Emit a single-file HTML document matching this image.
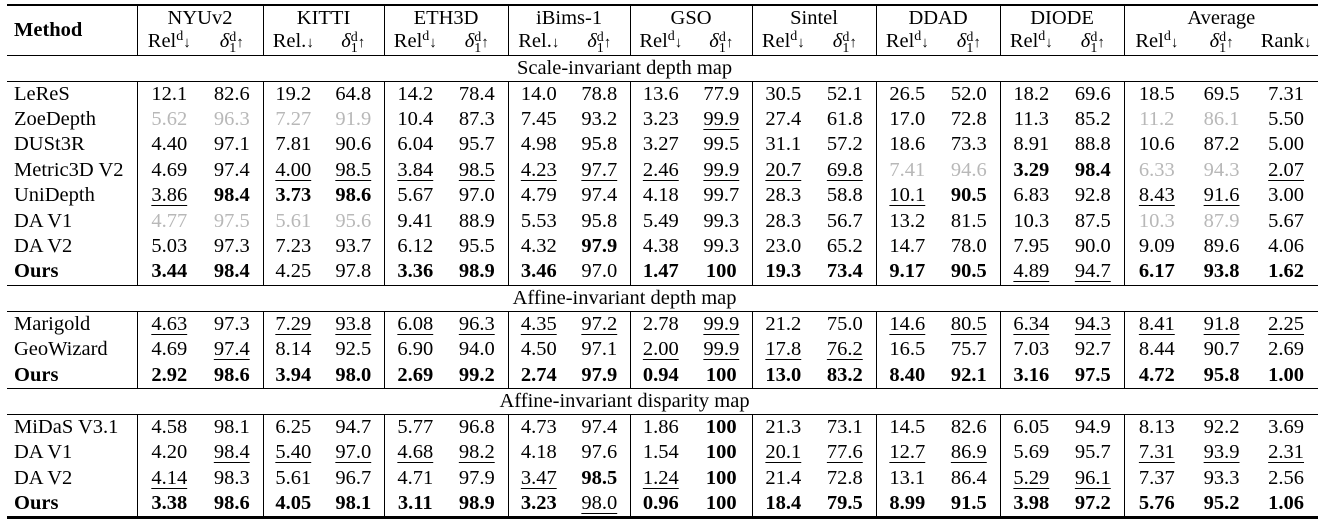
<!DOCTYPE html>
<html><head><meta charset="utf-8"><style>
body{margin:0;background:#fff;width:1323px;height:524px;overflow:hidden;font-family:"Liberation Serif",serif;color:#000}
table{position:absolute;left:7px;top:4px;border-collapse:collapse;table-layout:fixed;width:1311px;border-top:2px solid #000;border-bottom:3px solid #000;font-size:20.5px}
td{padding:0;text-align:center;white-space:nowrap;line-height:21px}
td.m{text-align:left;padding-left:7px}
.vr{border-right:1px solid #000}
tr.hl td{border-bottom:1px solid #000}
tr.r td{height:25.4px}
tr.s td{height:25px;padding-right:76px}
.b{font-weight:bold}
.u{text-decoration:underline;text-decoration-thickness:1px;text-underline-offset:4px}
.g{color:#b8b8b8}
.ar{font-size:15px}
.sp{display:inline-block;vertical-align:-5px;line-height:11px;font-size:14px;text-align:left}
sup{font-size:14px;line-height:0;vertical-align:7px}
</style></head><body>
<table>
<colgroup><col style="width:130px"><col style="width:64px"><col style="width:62px"><col style="width:60px"><col style="width:61px"><col style="width:62px"><col style="width:62px"><col style="width:61px"><col style="width:61px"><col style="width:61px"><col style="width:61px"><col style="width:62px"><col style="width:62px"><col style="width:62px"><col style="width:62px"><col style="width:62px"><col style="width:62px"><col style="width:65px"><col style="width:65px"><col style="width:64px"></colgroup>
<tr style="height:25px"><td rowspan="2" class="m b vr" style="border-bottom:1px solid #000">Method</td><td colspan="2" class="vr">NYUv2</td><td colspan="2" class="vr">KITTI</td><td colspan="2" class="vr">ETH3D</td><td colspan="2" class="vr">iBims-1</td><td colspan="2" class="vr">GSO</td><td colspan="2" class="vr">Sintel</td><td colspan="2" class="vr">DDAD</td><td colspan="2" class="vr">DIODE</td><td colspan="3">Average</td></tr>
<tr class="hl" style="height:25px"><td>Rel<sup>d</sup><span class="ar">↓</span></td><td class="vr"><i>δ</i><span class="sp">d<br>1</span><span class="ar">↑</span></td><td>Rel.<span class="ar">↓</span></td><td class="vr"><i>δ</i><span class="sp">d<br>1</span><span class="ar">↑</span></td><td>Rel<sup>d</sup><span class="ar">↓</span></td><td class="vr"><i>δ</i><span class="sp">d<br>1</span><span class="ar">↑</span></td><td>Rel.<span class="ar">↓</span></td><td class="vr"><i>δ</i><span class="sp">d<br>1</span><span class="ar">↑</span></td><td>Rel<sup>d</sup><span class="ar">↓</span></td><td class="vr"><i>δ</i><span class="sp">d<br>1</span><span class="ar">↑</span></td><td>Rel<sup>d</sup><span class="ar">↓</span></td><td class="vr"><i>δ</i><span class="sp">d<br>1</span><span class="ar">↑</span></td><td>Rel<sup>d</sup><span class="ar">↓</span></td><td class="vr"><i>δ</i><span class="sp">d<br>1</span><span class="ar">↑</span></td><td>Rel<sup>d</sup><span class="ar">↓</span></td><td class="vr"><i>δ</i><span class="sp">d<br>1</span><span class="ar">↑</span></td><td>Rel<sup>d</sup><span class="ar">↓</span></td><td><i>δ</i><span class="sp">d<br>1</span><span class="ar">↑</span></td><td>Rank<span class="ar">↓</span></td></tr>
<tr class="s hl"><td colspan="20">Scale-invariant depth map</td></tr>
<tr class="r"><td class="m vr">LeReS</td><td>12.1</td><td class="vr">82.6</td><td>19.2</td><td class="vr">64.8</td><td>14.2</td><td class="vr">78.4</td><td>14.0</td><td class="vr">78.8</td><td>13.6</td><td class="vr">77.9</td><td>30.5</td><td class="vr">52.1</td><td>26.5</td><td class="vr">52.0</td><td>18.2</td><td class="vr">69.6</td><td>18.5</td><td>69.5</td><td>7.31</td></tr>
<tr class="r"><td class="m vr">ZoeDepth</td><td class="g">5.62</td><td class="vr g">96.3</td><td class="g">7.27</td><td class="vr g">91.9</td><td>10.4</td><td class="vr">87.3</td><td>7.45</td><td class="vr">93.2</td><td>3.23</td><td class="vr"><span class="u">99.9</span></td><td>27.4</td><td class="vr">61.8</td><td>17.0</td><td class="vr">72.8</td><td>11.3</td><td class="vr">85.2</td><td class="g">11.2</td><td class="g">86.1</td><td>5.50</td></tr>
<tr class="r"><td class="m vr">DUSt3R</td><td>4.40</td><td class="vr">97.1</td><td>7.81</td><td class="vr">90.6</td><td>6.04</td><td class="vr">95.7</td><td>4.98</td><td class="vr">95.8</td><td>3.27</td><td class="vr">99.5</td><td>31.1</td><td class="vr">57.2</td><td>18.6</td><td class="vr">73.3</td><td>8.91</td><td class="vr">88.8</td><td>10.6</td><td>87.2</td><td>5.00</td></tr>
<tr class="r"><td class="m vr">Metric3D V2</td><td>4.69</td><td class="vr">97.4</td><td><span class="u">4.00</span></td><td class="vr"><span class="u">98.5</span></td><td><span class="u">3.84</span></td><td class="vr"><span class="u">98.5</span></td><td><span class="u">4.23</span></td><td class="vr"><span class="u">97.7</span></td><td><span class="u">2.46</span></td><td class="vr"><span class="u">99.9</span></td><td><span class="u">20.7</span></td><td class="vr"><span class="u">69.8</span></td><td class="g">7.41</td><td class="vr g">94.6</td><td class="b">3.29</td><td class="vr b">98.4</td><td class="g">6.33</td><td class="g">94.3</td><td><span class="u">2.07</span></td></tr>
<tr class="r"><td class="m vr">UniDepth</td><td><span class="u">3.86</span></td><td class="vr b">98.4</td><td class="b">3.73</td><td class="vr b">98.6</td><td>5.67</td><td class="vr">97.0</td><td>4.79</td><td class="vr">97.4</td><td>4.18</td><td class="vr">99.7</td><td>28.3</td><td class="vr">58.8</td><td><span class="u">10.1</span></td><td class="vr b">90.5</td><td>6.83</td><td class="vr">92.8</td><td><span class="u">8.43</span></td><td><span class="u">91.6</span></td><td>3.00</td></tr>
<tr class="r"><td class="m vr">DA V1</td><td class="g">4.77</td><td class="vr g">97.5</td><td class="g">5.61</td><td class="vr g">95.6</td><td>9.41</td><td class="vr">88.9</td><td>5.53</td><td class="vr">95.8</td><td>5.49</td><td class="vr">99.3</td><td>28.3</td><td class="vr">56.7</td><td>13.2</td><td class="vr">81.5</td><td>10.3</td><td class="vr">87.5</td><td class="g">10.3</td><td class="g">87.9</td><td>5.67</td></tr>
<tr class="r"><td class="m vr">DA V2</td><td>5.03</td><td class="vr">97.3</td><td>7.23</td><td class="vr">93.7</td><td>6.12</td><td class="vr">95.5</td><td>4.32</td><td class="vr b">97.9</td><td>4.38</td><td class="vr">99.3</td><td>23.0</td><td class="vr">65.2</td><td>14.7</td><td class="vr">78.0</td><td>7.95</td><td class="vr">90.0</td><td>9.09</td><td>89.6</td><td>4.06</td></tr>
<tr class="r hl"><td class="m vr b">Ours</td><td class="b">3.44</td><td class="vr b">98.4</td><td>4.25</td><td class="vr">97.8</td><td class="b">3.36</td><td class="vr b">98.9</td><td class="b">3.46</td><td class="vr">97.0</td><td class="b">1.47</td><td class="vr b">100</td><td class="b">19.3</td><td class="vr b">73.4</td><td class="b">9.17</td><td class="vr b">90.5</td><td><span class="u">4.89</span></td><td class="vr"><span class="u">94.7</span></td><td class="b">6.17</td><td class="b">93.8</td><td class="b">1.62</td></tr>
<tr class="s hl"><td colspan="20">Affine-invariant depth map</td></tr>
<tr class="r"><td class="m vr">Marigold</td><td><span class="u">4.63</span></td><td class="vr">97.3</td><td><span class="u">7.29</span></td><td class="vr"><span class="u">93.8</span></td><td><span class="u">6.08</span></td><td class="vr"><span class="u">96.3</span></td><td><span class="u">4.35</span></td><td class="vr"><span class="u">97.2</span></td><td>2.78</td><td class="vr"><span class="u">99.9</span></td><td>21.2</td><td class="vr">75.0</td><td><span class="u">14.6</span></td><td class="vr"><span class="u">80.5</span></td><td><span class="u">6.34</span></td><td class="vr"><span class="u">94.3</span></td><td><span class="u">8.41</span></td><td><span class="u">91.8</span></td><td><span class="u">2.25</span></td></tr>
<tr class="r"><td class="m vr">GeoWizard</td><td>4.69</td><td class="vr"><span class="u">97.4</span></td><td>8.14</td><td class="vr">92.5</td><td>6.90</td><td class="vr">94.0</td><td>4.50</td><td class="vr">97.1</td><td><span class="u">2.00</span></td><td class="vr"><span class="u">99.9</span></td><td><span class="u">17.8</span></td><td class="vr"><span class="u">76.2</span></td><td>16.5</td><td class="vr">75.7</td><td>7.03</td><td class="vr">92.7</td><td>8.44</td><td>90.7</td><td>2.69</td></tr>
<tr class="r hl"><td class="m vr b">Ours</td><td class="b">2.92</td><td class="vr b">98.6</td><td class="b">3.94</td><td class="vr b">98.0</td><td class="b">2.69</td><td class="vr b">99.2</td><td class="b">2.74</td><td class="vr b">97.9</td><td class="b">0.94</td><td class="vr b">100</td><td class="b">13.0</td><td class="vr b">83.2</td><td class="b">8.40</td><td class="vr b">92.1</td><td class="b">3.16</td><td class="vr b">97.5</td><td class="b">4.72</td><td class="b">95.8</td><td class="b">1.00</td></tr>
<tr class="s hl"><td colspan="20">Affine-invariant disparity map</td></tr>
<tr class="r"><td class="m vr">MiDaS V3.1</td><td>4.58</td><td class="vr">98.1</td><td>6.25</td><td class="vr">94.7</td><td>5.77</td><td class="vr">96.8</td><td>4.73</td><td class="vr">97.4</td><td>1.86</td><td class="vr b">100</td><td>21.3</td><td class="vr">73.1</td><td>14.5</td><td class="vr">82.6</td><td>6.05</td><td class="vr">94.9</td><td>8.13</td><td>92.2</td><td>3.69</td></tr>
<tr class="r"><td class="m vr">DA V1</td><td>4.20</td><td class="vr"><span class="u">98.4</span></td><td><span class="u">5.40</span></td><td class="vr"><span class="u">97.0</span></td><td><span class="u">4.68</span></td><td class="vr"><span class="u">98.2</span></td><td>4.18</td><td class="vr">97.6</td><td>1.54</td><td class="vr b">100</td><td><span class="u">20.1</span></td><td class="vr"><span class="u">77.6</span></td><td><span class="u">12.7</span></td><td class="vr"><span class="u">86.9</span></td><td>5.69</td><td class="vr">95.7</td><td><span class="u">7.31</span></td><td><span class="u">93.9</span></td><td><span class="u">2.31</span></td></tr>
<tr class="r"><td class="m vr">DA V2</td><td><span class="u">4.14</span></td><td class="vr">98.3</td><td>5.61</td><td class="vr">96.7</td><td>4.71</td><td class="vr">97.9</td><td><span class="u">3.47</span></td><td class="vr b">98.5</td><td><span class="u">1.24</span></td><td class="vr b">100</td><td>21.4</td><td class="vr">72.8</td><td>13.1</td><td class="vr">86.4</td><td><span class="u">5.29</span></td><td class="vr"><span class="u">96.1</span></td><td>7.37</td><td>93.3</td><td>2.56</td></tr>
<tr class="r" style="height:27px"><td class="m vr b">Ours</td><td class="b">3.38</td><td class="vr b">98.6</td><td class="b">4.05</td><td class="vr b">98.1</td><td class="b">3.11</td><td class="vr b">98.9</td><td class="b">3.23</td><td class="vr"><span class="u">98.0</span></td><td class="b">0.96</td><td class="vr b">100</td><td class="b">18.4</td><td class="vr b">79.5</td><td class="b">8.99</td><td class="vr b">91.5</td><td class="b">3.98</td><td class="vr b">97.2</td><td class="b">5.76</td><td class="b">95.2</td><td class="b">1.06</td></tr>
</table>
</body></html>
